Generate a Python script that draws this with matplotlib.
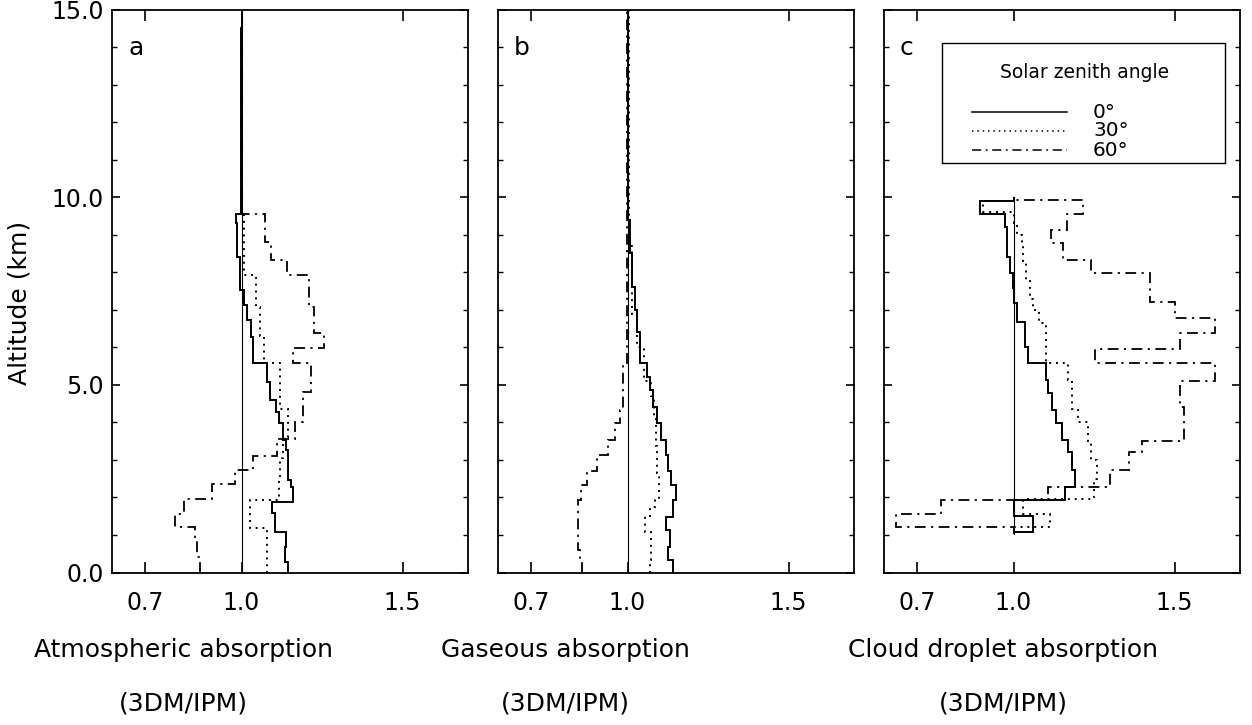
import matplotlib
matplotlib.use("Agg")
import matplotlib.pyplot as plt
from matplotlib.lines import Line2D
from matplotlib.patches import Rectangle

plt.rcParams['font.family'] = ['DejaVu Sans']

# ---------------- data ----------------
# Panel a: atmospheric absorption ratio (3DM/IPM)
a_sza0_edges = [0, 0.29, 0.69, 1.09, 1.58, 1.89, 2.29, 2.46, 3.26, 3.53, 3.98, 4.28, 4.6, 5.08,
                5.57, 6.28, 6.73, 7.13, 7.53, 8.41, 9.30, 9.55, 11.0, 14.0, 14.5, 15.0]
a_sza0_vals = [1.145, 1.135, 1.138, 1.104, 1.094, 1.159, 1.155, 1.145, 1.137, 1.13, 1.117, 1.107,
               1.088, 1.078, 1.035, 1.029, 1.016, 1.009, 0.995, 0.986, 0.982, 0.998, 0.997, 0.998, 1.002]

a_sza30_edges = [0, 1.18, 1.93, 2.5, 3.05, 3.6, 4.35, 5.57, 6.3, 7.07, 7.93, 9.58, 15.0]
a_sza30_vals = [1.078, 1.026, 1.115, 1.12, 1.13, 1.145, 1.12, 1.07, 1.058, 1.045, 1.008, 1.0]

a_sza60_edges = [0, 0.4, 0.9, 1.2, 1.55, 1.95, 2.35, 2.73, 3.1, 3.57, 4.0, 4.8, 5.57, 5.97, 6.37,
                 7.07, 7.93, 8.33, 8.8, 9.55, 14.5, 15.0]
a_sza60_vals = [0.871, 0.862, 0.857, 0.793, 0.823, 0.907, 0.98, 1.036, 1.11, 1.165, 1.192, 1.215,
                1.16, 1.255, 1.225, 1.21, 1.14, 1.09, 1.073, 0.999, 1.003]

# Panel b: gaseous absorption ratio
b_sza0_edges = [0, 0.33, 0.69, 1.13, 1.49, 1.93, 2.33, 2.7, 3.13, 3.53, 3.97, 4.4, 4.86, 5.2,
                5.57, 6.4, 7.0, 7.6, 8.5, 9.4, 15.0]
b_sza0_vals = [1.142, 1.126, 1.131, 1.121, 1.142, 1.152, 1.135, 1.125, 1.12, 1.105, 1.09, 1.08,
               1.069, 1.059, 1.038, 1.03, 1.022, 1.013, 1.007, 1.002]

b_sza30_edges = [0, 0.33, 1.08, 1.5, 1.75, 1.95, 2.66, 3.37, 4.1, 4.7, 5.1, 6.0, 6.9, 8.7, 15.0]
b_sza30_vals = [1.069, 1.074, 1.053, 1.07, 1.085, 1.098, 1.093, 1.088, 1.082, 1.072, 1.05, 1.03,
                1.013, 1.004]

b_sza60_edges = [0, 0.33, 0.6, 0.87, 1.93, 2.33, 2.7, 3.13, 3.53, 3.97, 4.33, 5.57, 15.0]
b_sza60_vals = [0.86, 0.852, 0.847, 0.845, 0.855, 0.875, 0.905, 0.939, 0.96, 0.976, 0.986, 0.998]

# Panel c: cloud droplet absorption ratio (cloud layer 1-10 km)
c_sza0_edges = [1.03, 1.07, 1.5, 1.92, 2.29, 2.73, 3.2, 3.53, 3.97, 4.33, 4.77, 5.13, 5.57, 6.0,
                6.67, 7.17, 7.58, 7.98, 8.4, 9.2, 9.55, 9.9, 10.0]
c_sza0_vals = [1.0, 1.06, 1.0, 1.159, 1.19, 1.183, 1.17, 1.149, 1.133, 1.118, 1.106, 1.102, 1.045,
               1.035, 1.01, 1.0, 0.998, 0.99, 0.979, 0.973, 0.895, 1.0]

c_sza30_edges = [1.03, 1.2, 1.55, 1.95, 2.5, 3.0, 3.5, 4.0, 4.35, 5.13, 5.57, 6.65, 7.0, 7.3, 7.8,
                 8.3, 8.75, 9.0, 9.3, 9.6, 9.9, 10.0]
c_sza30_vals = [1.0, 1.113, 1.03, 1.25, 1.26, 1.24, 1.23, 1.2, 1.18, 1.17, 1.1, 1.08, 1.06, 1.05,
                1.04, 1.03, 1.025, 1.01, 1.003, 0.905, 1.0]

c_sza60_edges = [1.03, 1.2, 1.55, 1.92, 2.29, 2.73, 3.2, 3.5, 4.0, 4.4, 5.1, 5.57, 5.96, 6.37,
                 6.78, 7.22, 7.97, 8.33, 8.77, 9.13, 9.55, 9.93, 10.0]
c_sza60_vals = [1.0, 0.636, 0.776, 1.108, 1.3, 1.36, 1.4, 1.53, 1.53, 1.516, 1.625, 1.253, 1.516,
                1.625, 1.5, 1.425, 1.242, 1.153, 1.116, 1.165, 1.216, 1.0]

panel_letters = ['a', 'b', 'c']
xlabels_top = ['Atmospheric absorption', 'Gaseous absorption', 'Cloud droplet absorption']
xlabel_bottom = '(3DM/IPM)'
xticks = [0.7, 1.0, 1.5]
xticklabels = ['0.7', '1.0', '1.5']
yticks = [0.0, 5.0, 10.0, 15.0]
yticklabels = ['0.0', '5.0', '10.0', '15.0']
ref_spans = [(0, 15), (0, 15), (1.03, 10.0)]
legend_labels = ['0°', '30°', '60°']
legend_title = 'Solar zenith angle'

panels = [
    [(a_sza0_edges, a_sza0_vals), (a_sza30_edges, a_sza30_vals), (a_sza60_edges, a_sza60_vals)],
    [(b_sza0_edges, b_sza0_vals), (b_sza30_edges, b_sza30_vals), (b_sza60_edges, b_sza60_vals)],
    [(c_sza0_edges, c_sza0_vals), (c_sza30_edges, c_sza30_vals), (c_sza60_edges, c_sza60_vals)],
]

# ---------------- styling ----------------
W, H = 1252, 725
fig = plt.figure(figsize=(W / 100, H / 100), dpi=100)
styles = [dict(ls='-', lw=1.4), dict(ls=(0, (1, 2.5)), lw=1.4), dict(ls=(0, (6, 3, 1.2, 3)), lw=1.3)]
lefts = [112, 498, 884]
ax_w, top_px, bot_px = 356, 9.5, 572.5
fs = 17

for i, ax_left in enumerate(lefts):
    ax = fig.add_axes([ax_left / W, 1 - bot_px / H, ax_w / W, (bot_px - top_px) / H])
    ax.set_xlim(0.598, 1.703)
    ax.set_ylim(0, 15)
    lo, hi = ref_spans[i]
    ax.plot([1.0, 1.0], [lo, hi], color='black', lw=0.8)
    for (edges, vals), st in zip(panels[i], styles):
        ax.stairs(vals, edges, orientation='horizontal', baseline=None,
                  color='black', linestyle=st['ls'], linewidth=st['lw'])
    ax.set_xticks(xticks)
    ax.set_xticklabels(xticklabels, fontsize=fs)
    ax.set_yticks(yticks)
    ax.set_yticks(range(0, 16), minor=True)
    if i == 0:
        ax.set_yticklabels(yticklabels, fontsize=fs)
    else:
        ax.set_yticklabels([])
    ax.tick_params(axis='x', which='major', direction='in', length=8, width=1.2,
                   top=True, bottom=True, pad=13)
    ax.tick_params(axis='y', which='major', direction='in', length=5.5, width=1.2,
                   left=True, right=True, pad=6)
    ax.tick_params(axis='y', which='minor', direction='in', length=3.5, width=1.0,
                   left=True, right=True)
    for sp in ax.spines.values():
        sp.set_linewidth(1.3)
    ax.text(0.045, 0.932, panel_letters[i], transform=ax.transAxes, fontsize=18,
            ha='left', va='center')

# axis titles below panels (placed as in the reference)
label_centers = [183, 565, 1003]
for cx, t in zip(label_centers, xlabels_top):
    fig.text(cx / W, 1 - 650 / H, t, ha='center', va='center', fontsize=18)
    fig.text(cx / W, 1 - 703 / H, xlabel_bottom, ha='center', va='center', fontsize=18)

fig.text(20 / W, 1 - 303 / H, 'Altitude (km)', rotation=90, ha='center', va='center', fontsize=18)

# legend box in panel c
bx0, by0, bx1, by1 = 942, 43, 1225, 163
fig.add_artist(Rectangle((bx0 / W, 1 - by1 / H), (bx1 - bx0) / W, (by1 - by0) / H,
                         transform=fig.transFigure, fill=False, lw=1.0, edgecolor='black'))
fig.text(1085 / W, 1 - 72 / H, legend_title, ha='center', va='center', fontsize=13.5)
for k, (lab, st) in enumerate(zip(legend_labels, styles)):
    yy = 112 + 19 * k
    fig.add_artist(Line2D([972 / W, 1067 / W], [1 - yy / H, 1 - yy / H], transform=fig.transFigure,
                          color='black', linestyle=st['ls'], linewidth=1.1))
    fig.text(1093 / W, 1 - yy / H, lab, ha='left', va='center', fontsize=14.5)

fig.savefig('out.png', dpi=100)
